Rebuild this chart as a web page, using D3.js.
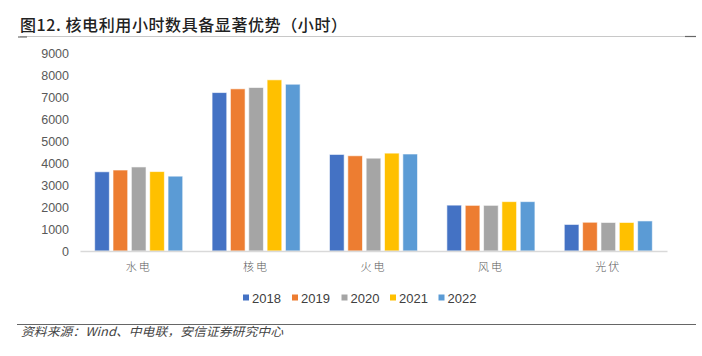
<!DOCTYPE html>
<html><head><meta charset="utf-8">
<script src="https://cdn.jsdelivr.net/npm/d3@7"></script>
<style>body{margin:0;background:#fff;}svg{display:block;}</style>
</head><body>
<svg id="c" width="702" height="356"></svg>
<script>
const categories = ["水电","核电","火电","风电","光伏"];
const years = ["2018","2019","2020","2021","2022"];
const v2018 = [3610, 7220, 4400, 2090, 1210];
const v2019 = [3690, 7390, 4340, 2080, 1310];
const v2020 = [3830, 7450, 4230, 2080, 1300];
const v2021 = [3620, 7800, 4460, 2250, 1300];
const v2022 = [3410, 7600, 4420, 2250, 1370];
const yTicks = [0,1000,2000,3000,4000,5000,6000,7000,8000,9000];
const colors = ["#4472C4","#ED7D31","#A5A5A5","#FFC000","#5B9BD5"];
const series = [v2018, v2019, v2020, v2021, v2022];

const svg = d3.select("#c");
const sans = "'Liberation Sans', Arial, 'Noto Sans CJK SC', sans-serif";
const cjk = "'Noto Sans CJK SC', sans-serif";

// title
svg.append("text").attr("x",20).attr("y",31)
  .attr("font-family",cjk).attr("font-size",16).attr("font-weight",500)
  .attr("fill","#222").attr("textLength",327).attr("lengthAdjust","spacing")
  .text("图12. 核电利用小时数具备显著优势（小时）");
svg.append("line").attr("x1",20).attr("x2",696).attr("y1",36.5).attr("y2",36.5)
  .attr("stroke","#c8c8c8").attr("stroke-width",1);
svg.append("line").attr("x1",18).attr("x2",27).attr("y1",37).attr("y2",37)
  .attr("stroke","#555").attr("stroke-width",1);
svg.append("line").attr("x1",685).attr("x2",696).attr("y1",36.5).attr("y2",36.5)
  .attr("stroke","#666").attr("stroke-width",1.2);

const x = d3.scaleBand().domain(categories).range([80,667]).paddingInner(0).paddingOuter(0);
const x1 = d3.scaleBand().domain(years).range([0, x.bandwidth()]).paddingInner(0.2).paddingOuter(0.8);
const y = d3.scaleLinear().domain([0,9000]).range([251,53.5]);

// y axis labels
const yAxis = d3.axisLeft(y).tickValues(yTicks).tickSize(0).tickPadding(0).tickFormat(d3.format("d"));
const gy = svg.append("g").attr("transform","translate(69,0)").call(yAxis);
gy.select(".domain").remove();
gy.selectAll("text").attr("font-family",sans).attr("font-size",12.5).attr("fill","#595959").attr("dy","0.35em");

// bars
const g = svg.append("g");
categories.forEach((c,ci)=>{
  years.forEach((yr,si)=>{
    g.append("rect")
      .attr("x", x(c)+x1(yr))
      .attr("y", y(series[si][ci]))
      .attr("width", x1.bandwidth())
      .attr("height", y(0)-y(series[si][ci]))
      .attr("fill", colors[si])
      .attr("stroke","#ffffff").attr("stroke-opacity",0.6).attr("stroke-width",1);
  });
});

// x axis
const xAxis = d3.axisBottom(x).tickSize(0).tickPadding(12);
const gx = svg.append("g").attr("transform","translate(0,251)").call(xAxis);
gx.select(".domain").attr("stroke","#d9d9d9").attr("stroke-width",1.5);
gx.selectAll("text").attr("font-family","'Noto Sans CJK SC', serif").attr("font-size",11)
  .attr("fill","#595959").attr("font-weight",300).attr("letter-spacing","2px");

// legend
const legendX = [243, 292, 341.5, 390, 438.5];
years.forEach((yr,i)=>{
  const lg = svg.append("g").attr("transform",`translate(${legendX[i]},298)`);
  lg.append("rect").attr("x",0).attr("y",-3.5).attr("width",6).attr("height",6).attr("fill",colors[i]);
  lg.append("text").attr("x",9).attr("y",0).attr("dy","0.35em")
    .attr("font-family",sans).attr("font-size",13).attr("fill","#404040").text(yr);
});

// source
svg.append("line").attr("x1",17).attr("x2",696).attr("y1",324.5).attr("y2",324.5)
  .attr("stroke","#666").attr("stroke-width",1);
svg.append("text").attr("x",21).attr("y",336)
  .attr("font-family",cjk).attr("font-size",12).attr("font-style","italic")
  .attr("fill","#444").attr("textLength",262).attr("lengthAdjust","spacingAndGlyphs")
  .text("资料来源：Wind、中电联，安信证券研究中心");
</script>
</body></html>
